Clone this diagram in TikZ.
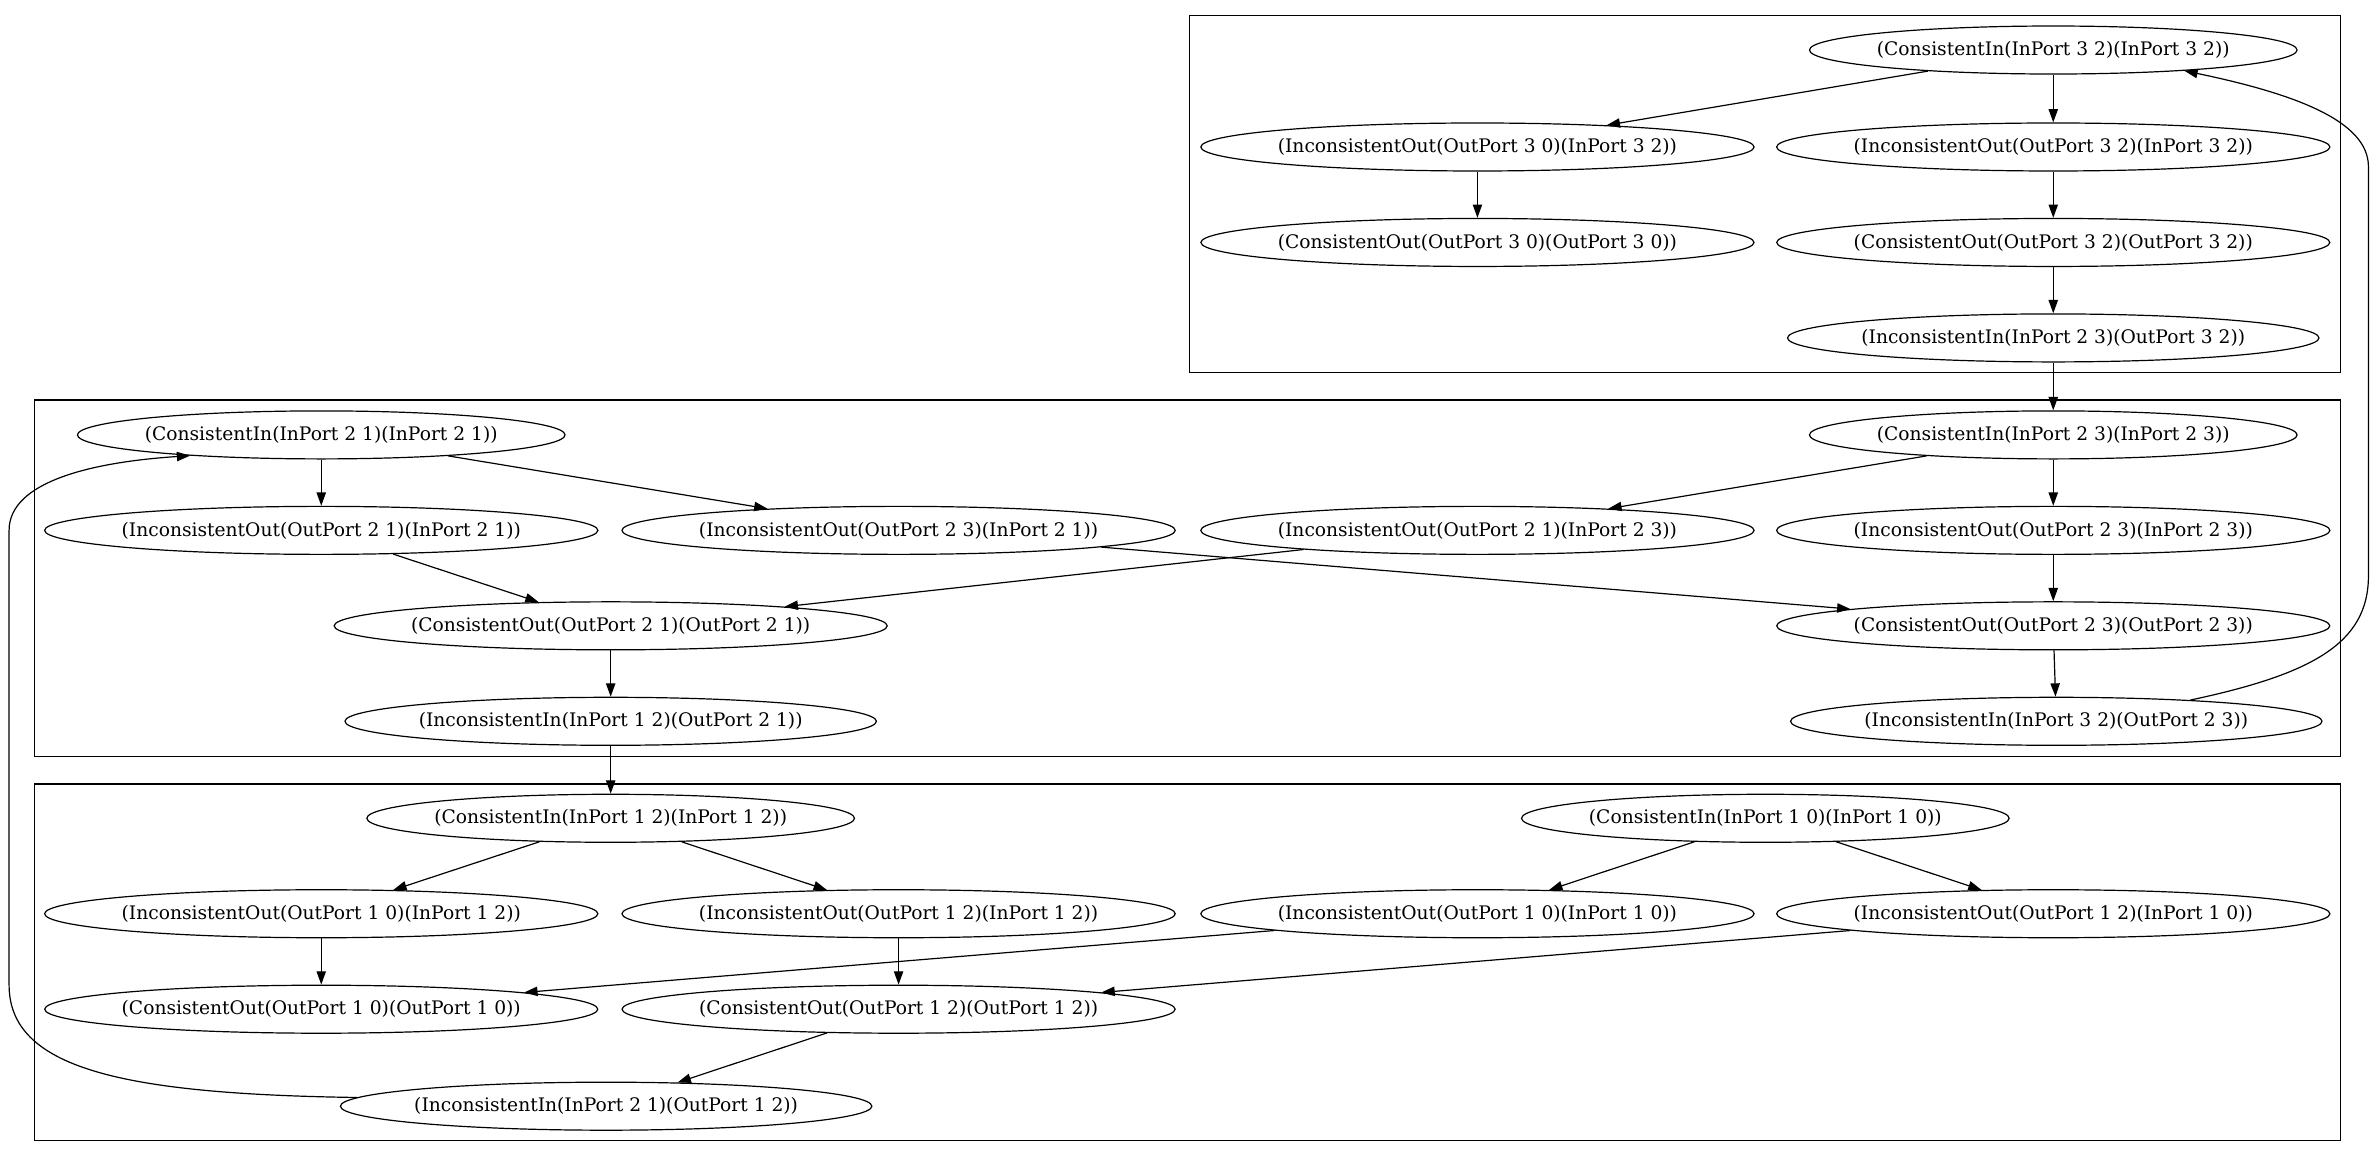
\documentclass[tikz,border=0pt]{standalone}
\usepackage{fontspec}
\setmainfont{DejaVu Serif}
\usetikzlibrary{positioning}
\usetikzlibrary{arrows.meta}
\usetikzlibrary{shapes.geometric}

\begin{document}
\begin{tikzpicture}[x=1.1365pt, y=-1.1365pt, line width=0.9pt,
    port/.style={ellipse, draw, minimum height=36pt, inner xsep=-3pt, inner ysep=0pt,
        font=\fontsize{14pt}{16pt}\selectfont},
    edge/.style={-{Triangle[length=10pt, width=7pt]}},
    cluster/.style={draw}]
    \useasboundingbox (0,0) rectangle (1568,764);

    % Clusters
    \foreach \xa/\ya/\xb/\yb in {785/10.4/1544.5/246, 22.7/264/1544.5/499.4, 22.7/517.4/1544.5/752.8} {
        \draw[cluster] (\xa,\ya) rectangle (\xb,\yb);
    }

    % Port 3
    \node[port] (ci32) at (1355, 33) {(ConsistentIn(InPort 3 2)(InPort 3 2))};
    \node[port] (io30i32) at (975, 97) {(InconsistentOut(OutPort 3 0)(InPort 3 2))};
    \node[port] (io32i32) at (1355, 97) {(InconsistentOut(OutPort 3 2)(InPort 3 2))};
    \node[port] (co30) at (975, 160) {(ConsistentOut(OutPort 3 0)(OutPort 3 0))};
    \node[port] (co32) at (1355, 160) {(ConsistentOut(OutPort 3 2)(OutPort 3 2))};
    \node[port] (ii23o32) at (1355, 223) {(InconsistentIn(InPort 2 3)(OutPort 3 2))};

    % Port 2
    \node[port] (ci21) at (212, 287) {(ConsistentIn(InPort 2 1)(InPort 2 1))};
    \node[port] (ci23) at (1355, 287) {(ConsistentIn(InPort 2 3)(InPort 2 3))};
    \node[port] (io21i21) at (212, 350) {(InconsistentOut(OutPort 2 1)(InPort 2 1))};
    \node[port] (io23i21) at (593, 350) {(InconsistentOut(OutPort 2 3)(InPort 2 1))};
    \node[port] (io21i23) at (975, 350) {(InconsistentOut(OutPort 2 1)(InPort 2 3))};
    \node[port] (io23i23) at (1355, 350) {(InconsistentOut(OutPort 2 3)(InPort 2 3))};
    \node[port] (co21) at (403, 413) {(ConsistentOut(OutPort 2 1)(OutPort 2 1))};
    \node[port] (co23) at (1355, 413) {(ConsistentOut(OutPort 2 3)(OutPort 2 3))};
    \node[port] (ii12o21) at (403, 476) {(InconsistentIn(InPort 1 2)(OutPort 2 1))};
    \node[port] (ii32o23) at (1357, 476) {(InconsistentIn(InPort 3 2)(OutPort 2 3))};

    % Port 1
    \node[port] (ci12) at (403, 540) {(ConsistentIn(InPort 1 2)(InPort 1 2))};
    \node[port] (ci10) at (1165, 540) {(ConsistentIn(InPort 1 0)(InPort 1 0))};
    \node[port] (io10i12) at (212, 603) {(InconsistentOut(OutPort 1 0)(InPort 1 2))};
    \node[port] (io12i12) at (593, 603) {(InconsistentOut(OutPort 1 2)(InPort 1 2))};
    \node[port] (io10i10) at (975, 603) {(InconsistentOut(OutPort 1 0)(InPort 1 0))};
    \node[port] (io12i10) at (1355, 603) {(InconsistentOut(OutPort 1 2)(InPort 1 0))};
    \node[port] (co10) at (212, 666) {(ConsistentOut(OutPort 1 0)(OutPort 1 0))};
    \node[port] (co12) at (593, 666) {(ConsistentOut(OutPort 1 2)(OutPort 1 2))};
    \node[port] (ii21o12) at (400, 730) {(InconsistentIn(InPort 2 1)(OutPort 1 2))};

    % Straight edges
    \foreach \a/\b in {ci32/io30i32, ci32/io32i32, io30i32/co30, io32i32/co32, co32/ii23o32,
        ii23o32/ci23, ci21/io21i21, ci21/io23i21, ci23/io21i23, ci23/io23i23,
        io21i21/co21, io21i23/co21, io23i21/co23, io23i23/co23, co21/ii12o21, co23/ii32o23,
        ii12o21/ci12, ci12/io10i12, ci12/io12i12, ci10/io10i10, ci10/io12i10,
        io10i12/co10, io12i12/co12, io10i10/co10, io12i10/co12, co12/ii21o12} {
        \draw[edge] (\a) -- (\b);
    }

    % Back edges round the clusters
    \draw[edge] (ii32o23.9) .. controls (1525,445) and (1563,425) .. (1563,380)
        -- (1563,110) .. controls (1563,80) and (1515,62) .. (ci32.-9);
    \draw[edge] (ii21o12.178) .. controls (80,722) and (6,705) .. (6,650)
        -- (6,350) .. controls (6,318) and (60,305) .. (ci21.189);
\end{tikzpicture}
\end{document}
